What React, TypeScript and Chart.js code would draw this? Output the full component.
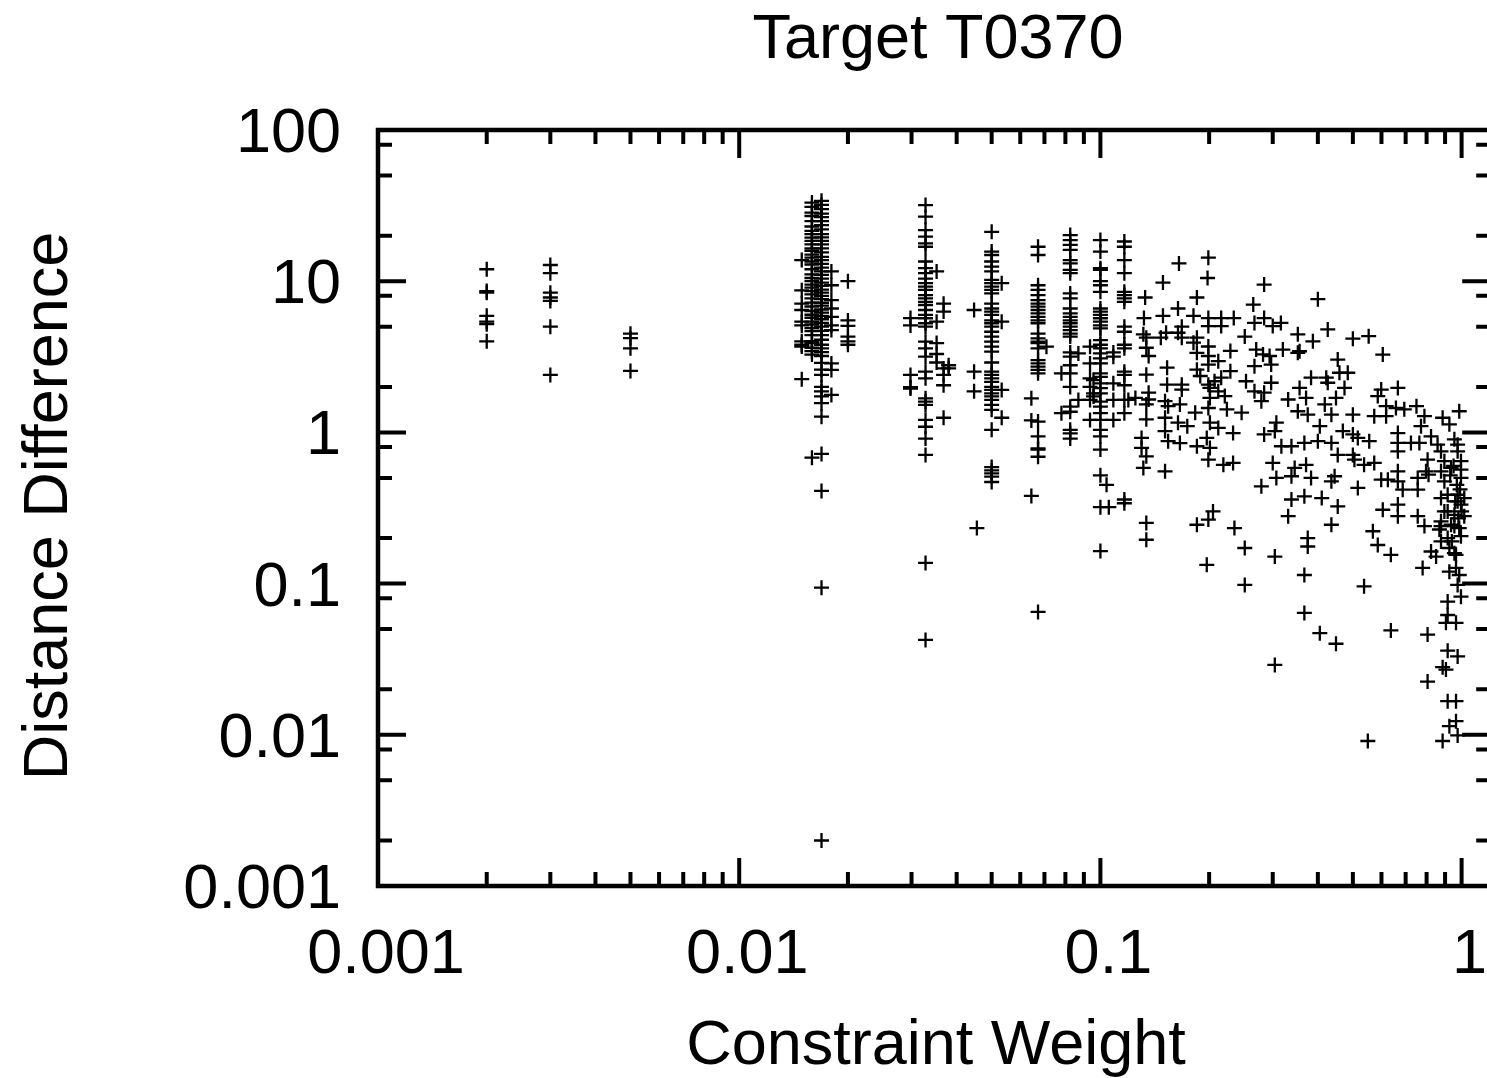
import React, { useEffect, useRef } from 'react';
import { Chart, registerables } from 'chart.js';

Chart.register(...registerables);

// ---------- texts & ticks ----------
const TITLE = 'Target T0370';
const X_TITLE = 'Constraint Weight';
const Y_TITLE = 'Distance Difference';
const xTickValues = [0.001, 0.01, 0.1, 1];
const xTickLabels = ['0.001', '0.01', '0.1', '1'];
const yTickValues = [0.001, 0.01, 0.1, 1, 10, 100];
const yTickLabels = ['0.001', '0.01', '0.1', '1', '10', '100'];
const xMinorFactors = [2, 3, 4, 5, 6, 7, 8, 9];
const yMinorFactors = [2, 5, 8];
const X_MIN = 0.001;
const X_MAX = 1.2;
const Y_MIN = 0.001;
const Y_MAX = 100;

// ---------- data: columns of points sharing one constraint weight ----------
const col0020 = [12, 8.4, 8.6, 5.9, 5.4, 5.2, 4.0];
const col0030 = [12.8, 11.3, 8.4, 7.8, 7.4, 5.0, 2.4];
const col0050 = [4.5, 4.2, 3.6, 2.55];
const col0149 = [13.8, 8.7, 7.1, 6.45, 5.4, 5.1, 4.0, 3.8, 3.7, 2.25];
const col0159 = [33.1, 31, 28.4, 27, 25.0, 23, 21.5, 20.5, 19.4, 18.5, 17.5, 16.5, 15.9, 15, 14.3, 13.5, 12.9, 12, 11.1, 10.5, 10.0, 9.5, 9.06, 8.6, 8.18, 7.7, 7.21, 6.8, 6.35, 6.0, 5.73, 5.4, 5.17, 4.9, 4.68, 4.4, 4.02, 3.9, 3.63, 3.45, 3.27, 0.68];
const col0169 = [34, 32, 30, 28, 26.5, 25, 23.5, 22, 20.5, 19.5, 18.5, 17.5, 16.5, 15.5, 14.5, 13.8, 13, 12.3, 11.6, 11, 10.4, 9.8, 9.3, 8.8, 8.4, 8, 7.6, 7.2, 6.9, 6.5, 6.2, 5.9, 5.6, 5.3, 5.0, 4.7, 4.4, 4.1, 3.8, 3.6, 3.4, 3.2, 2.88, 2.6, 2.4, 2.0, 1.87, 1.73, 1.56, 1.27, 0.72, 0.41, 0.094, 0.002];
const col0180 = [11.6, 9.4, 7.5, 6.6, 5.8, 5.1, 4.75, 2.86, 2.59, 1.77];
const col0200 = [10.0, 5.5, 5.06, 4.3, 4.0, 3.8];
const col0298 = [5.7, 5.1, 2.4, 1.99, 1.95];
const col0328 = [31.9, 26.7, 21.8, 19.7, 17.8, 16.9, 13.5, 12.2, 11.3, 10.4, 9.7, 9.2, 8.75, 8.1, 7.7, 7.3, 6.96, 6.45, 5.98, 5.69, 5.27, 5.0, 3.98, 3.6, 3.17, 2.52, 2.28, 1.68, 1.6, 1.52, 1.21, 1.09, 0.91, 0.71, 0.137, 0.0424];
const col0352 = [11.6, 5.4, 3.9, 3.3, 2.9];
const col0368 = [7.1, 6.3, 2.65, 2.4, 2.05, 1.25];
const col0380 = [2.78, 2.65];
const col0447 = [6.45, 2.52, 1.87];
const col0455 = [0.233];
const col0500 = [21.2, 15.7, 14.9, 13.5, 12.5, 11.6, 10.2, 9.7, 9.2, 8.75, 8.3, 7.1, 6.6, 6.3, 5.98, 5.5, 5.27, 5.0, 4.63, 4.3, 3.98, 3.69, 3.42, 2.9, 2.52, 2.4, 2.28, 2.16, 2.0, 1.91, 1.81, 1.73, 1.64, 1.52, 1.41, 1.04, 0.59, 0.56, 0.536, 0.51, 0.47];
const col0533 = [9.7, 5.4, 1.91, 1.25];
const col0644 = [1.68, 1.2, 0.38];
const col0672 = [16.9, 14.9, 9.4, 8.75, 8.1, 7.5, 7.1, 6.78, 6.45, 6.13, 5.8, 5.5, 5.27, 4.5, 4.19, 3.98, 3.89, 3.6, 3.01, 2.86, 2.72, 2.59, 2.46, 1.18, 0.94, 0.785, 0.77, 0.69, 0.065];
const col0709 = [3.69];
const col0780 = [2.46, 1.34];
const col0825 = [20.2, 18.7, 17.4, 16.1, 13.8, 13.1, 11.9, 11.3, 8.3, 7.7, 6.6, 6.13, 5.8, 5.5, 5.27, 5.0, 4.75, 4.5, 4.3, 3.38, 3.17, 2.78, 2.46, 2.0, 1.48, 1.37, 1.04, 0.986, 0.91];
const col0869 = [3.33, 1.64];
const col0936 = [3.69, 2.86, 2.28, 2.0, 1.64, 1.21];
const col0957 = [2.22, 1.81, 1.73];
const col1000 = [18.7, 15.7, 12.2, 11.9, 10.0, 9.4, 8.5, 6.6, 6.3, 5.98, 5.69, 5.4, 5.1, 4.88, 4.08, 3.8, 3.6, 3.33, 3.09, 2.86, 2.46, 2.33, 2.11, 1.96, 1.81, 1.6, 1.48, 1.34, 1.21, 1.04, 0.94, 0.77, 0.52, 0.32, 0.164];
const col1040 = [0.45];
const col1055 = [0.32];
const col1086 = [3.38, 3.17, 2.11, 1.64, 1.21];
const col1165 = [18.3, 16.9, 13.8, 11.3, 8.5, 8.1, 7.7, 7.3, 5.0, 4.63, 3.8, 3.6, 2.52, 2.4, 2.05, 1.64, 1.34, 0.34, 0.36];
const col1195 = [1.64];

const columnWeights = [0.002, 0.003, 0.005, 0.0149, 0.0159, 0.0169, 0.018, 0.02, 0.0298, 0.0328, 0.0352, 0.0368, 0.038, 0.0447, 0.0455, 0.05, 0.0533, 0.0644, 0.0672, 0.0709, 0.078, 0.0825, 0.0869, 0.0936, 0.0957, 0.1, 0.104, 0.1055, 0.1086, 0.1165, 0.1195];
const columnValues = [col0020, col0030, col0050, col0149, col0159, col0169, col0180, col0200, col0298, col0328, col0352, col0368, col0380, col0447, col0455, col0500, col0533, col0644, col0672, col0709, col0780, col0825, col0869, col0936, col0957, col1000, col1040, col1055, col1086, col1165, col1195];

// ---------- data: scattered points [weight, difference] ----------
const scatterMid: [number, number][] = [
  [0.199, 14.3], [0.165, 13.1], [0.198, 10.5], [0.149, 9.8], [0.284, 9.5], [0.185, 7.8], [0.133, 7.8],
  [0.265, 7.0], [0.164, 6.6], [0.132, 5.7], [0.149, 5.9], [0.181, 5.9], [0.199, 5.7], [0.216, 5.7],
  [0.234, 5.7], [0.267, 5.3], [0.284, 5.7], [0.316, 5.3], [0.30, 5.05], [0.199, 5.05], [0.216, 5.05],
  [0.168, 5.0], [0.1315, 4.45], [0.134, 4.23], [0.152, 4.56], [0.164, 4.56], [0.168, 4.23], [0.147, 4.23],
  [0.185, 4.23], [0.181, 3.92], [0.251, 4.3], [0.352, 4.45], [0.199, 3.7], [0.185, 3.36], [0.229, 3.46],
  [0.270, 3.53], [0.282, 3.28], [0.294, 3.2], [0.320, 3.53], [0.352, 3.36], [0.134, 3.63], [0.136, 3.2],
  [0.199, 3.2], [0.212, 2.96], [0.199, 2.81], [0.267, 2.74], [0.297, 2.81], [0.153, 2.68], [0.185, 2.6],
  [0.229, 2.54], [0.134, 2.41], [0.189, 2.36], [0.216, 2.3], [0.207, 2.18], [0.199, 2.07], [0.153, 2.07],
  [0.168, 2.07], [0.253, 2.18], [0.297, 2.13], [0.168, 1.92], [0.201, 1.97], [0.212, 1.87], [0.267, 1.87],
  [0.284, 1.83], [0.356, 1.97], [0.136, 1.83], [0.125, 1.69], [0.136, 1.65], [0.151, 1.61], [0.201, 1.69],
  [0.221, 1.74], [0.279, 1.61], [0.331, 1.65], [0.134, 1.53], [0.154, 1.49], [0.166, 1.53], [0.199, 1.45],
  [0.224, 1.42], [0.246, 1.35], [0.183, 1.35], [0.352, 1.38], [0.134, 1.22], [0.151, 1.25], [0.164, 1.16],
  [0.174, 1.1], [0.201, 1.16], [0.212, 1.07], [0.233, 0.99], [0.307, 1.16], [0.284, 0.97], [0.304, 1.02],
  [0.151, 1.02], [0.130, 0.92], [0.154, 0.875], [0.166, 0.85], [0.185, 0.81], [0.197, 0.92], [0.201, 0.79],
  [0.130, 0.79], [0.317, 0.81], [0.338, 0.81], [0.134, 0.695], [0.199, 0.66], [0.219, 0.61], [0.233, 0.628],
  [0.30, 0.628], [0.1315, 0.582], [0.151, 0.553], [0.345, 0.582],
];

const scatterHigh: [number, number][] = [
  [0.40, 7.6], [0.426, 4.8], [0.3875, 4.0], [0.50, 4.17], [0.553, 4.33], [0.356, 3.44], [0.605, 3.27],
  [0.454, 3.03], [0.484, 2.48], [0.459, 2.48], [0.383, 2.3], [0.422, 2.3], [0.426, 2.13], [0.474, 1.97],
  [0.599, 1.92], [0.586, 1.74], [0.666, 1.97], [0.371, 1.69], [0.449, 1.69], [0.418, 1.53], [0.618, 1.49],
  [0.658, 1.45], [0.694, 1.42], [0.75, 1.49], [0.985, 1.38], [0.375, 1.31], [0.436, 1.31], [0.50, 1.31],
  [0.573, 1.28], [0.618, 1.28], [0.789, 1.28], [0.886, 1.25], [0.405, 1.1], [0.772, 1.1], [0.925, 1.13],
  [0.469, 1.02], [0.50, 0.97], [0.516, 0.92], [0.666, 0.99], [0.823, 0.94], [0.955, 0.9], [0.367, 0.852],
  [0.40, 0.875], [0.436, 0.852], [0.555, 0.875], [0.666, 0.852], [0.724, 0.852], [0.764, 0.852],
  [0.858, 0.83], [0.975, 0.83], [0.454, 0.71], [0.50, 0.71], [0.666, 0.75], [0.877, 0.75], [0.975, 0.75],
  [0.505, 0.66], [0.537, 0.61], [0.573, 0.628], [0.805, 0.66], [0.896, 0.645], [0.996, 0.645], [0.371, 0.61],
  [0.383, 0.5], [0.445, 0.513], [0.436, 0.475], [0.599, 0.487], [0.625, 0.487], [0.666, 0.553],
  [0.666, 0.475], [0.756, 0.5], [0.797, 0.553], [0.81, 0.525], [0.877, 0.553], [0.935, 0.582],
  [0.996, 0.567], [0.996, 0.5], [0.896, 0.475], [0.516, 0.429], [0.687, 0.418], [0.756, 0.418],
  [0.367, 0.378], [0.41, 0.368], [0.454, 0.324], [0.666, 0.333], [0.877, 0.368], [0.975, 0.387],
  [0.975, 0.35], [1.017, 0.368], [0.605, 0.308], [0.666, 0.279], [0.756, 0.279], [0.789, 0.24],
  [0.896, 0.30], [0.955, 0.285], [1.017, 0.279], [0.436, 0.245], [0.568, 0.222], [0.877, 0.24],
  [0.955, 0.24], [0.996, 0.206], [0.375, 0.20], [0.375, 0.176], [0.586, 0.18], [0.823, 0.163],
  [0.877, 0.19], [0.955, 0.159], [0.637, 0.155], [0.95, 0.6], [0.97, 0.45], [0.99, 0.42], [0.93, 0.52],
  [0.96, 0.35], [1.0, 0.3], [0.98, 0.27], [0.94, 0.19],
];

const scatterLow: [number, number][] = [
  [0.279, 0.44], [0.307, 0.5], [0.338, 0.513], [0.338, 0.36], [0.134, 0.252], [0.134, 0.195],
  [0.185, 0.245], [0.199, 0.265], [0.205, 0.30], [0.235, 0.233], [0.331, 0.279], [0.251, 0.172],
  [0.304, 0.151], [0.197, 0.133], [0.367, 0.114], [0.251, 0.098], [0.537, 0.096], [0.78, 0.127],
  [0.367, 0.064], [0.405, 0.047], [0.449, 0.04], [0.304, 0.029], [0.637, 0.049], [0.805, 0.046],
  [0.805, 0.0225], [0.55, 0.0091], [0.886, 0.0091],
  [0.915, 0.387], [0.996, 0.333], [0.915, 0.30], [0.877, 0.258], [0.935, 0.245], [0.985, 0.233],
  [0.868, 0.228], [0.915, 0.20], [0.925, 0.172], [0.85, 0.151], [0.965, 0.155], [0.965, 0.127],
  [0.925, 0.12], [0.985, 0.114], [0.975, 0.098], [0.996, 0.082], [0.915, 0.076], [0.915, 0.062],
  [0.905, 0.055], [0.965, 0.055], [0.915, 0.036], [0.975, 0.033], [0.886, 0.028], [0.905, 0.027],
  [0.915, 0.0167], [0.965, 0.0167], [0.965, 0.0123], [0.925, 0.0114], [0.975, 0.0099],
];

// ---------- layout constants ----------
const CANVAS_W = 1500;
const CANVAS_H = 1078;
const FONT_TICK = '63px "Liberation Sans", Arial, sans-serif';
const FONT_TITLE = '63px "Liberation Sans", Arial, sans-serif';

function buildPoints() {
  const pts: { x: number; y: number }[] = [];
  columnWeights.forEach((w, i) => {
    columnValues[i].forEach((v) => pts.push({ x: w, y: v }));
  });
  [scatterMid, scatterHigh, scatterLow].forEach((arr) =>
    arr.forEach(([x, y]) => pts.push({ x, y }))
  );
  return pts;
}

const framePlugin = {
  id: 'gnuFrame',
  afterDatasetsDraw(chart: any) {
    const { ctx, chartArea: a, scales } = chart;
    const xs = scales.x;
    const ys = scales.y;
    ctx.save();
    ctx.strokeStyle = '#000';
    ctx.fillStyle = '#000';
    ctx.lineCap = 'butt';

    // frame
    ctx.lineWidth = 4.5;
    ctx.beginPath();
    ctx.rect(a.left, a.top, a.right - a.left, a.bottom - a.top);
    ctx.stroke();

    // ticks
    ctx.lineWidth = 4;
    ctx.beginPath();
    const MAJ = 28;
    const MIN = 14;
    const xTick = (v: number, len: number) => {
      if (v < X_MIN || v > X_MAX) return;
      const px = xs.getPixelForValue(v);
      ctx.moveTo(px, a.bottom);
      ctx.lineTo(px, a.bottom - len);
      ctx.moveTo(px, a.top);
      ctx.lineTo(px, a.top + len);
    };
    const yTick = (v: number, len: number) => {
      if (v < Y_MIN || v > Y_MAX) return;
      const py = ys.getPixelForValue(v);
      ctx.moveTo(a.left, py);
      ctx.lineTo(a.left + len, py);
      ctx.moveTo(a.right, py);
      ctx.lineTo(a.right - len, py);
    };
    xTickValues.forEach((v) => {
      xTick(v, MAJ);
      xMinorFactors.forEach((f) => xTick(v * f, MIN));
    });
    yTickValues.forEach((v) => {
      yTick(v, MAJ);
      yMinorFactors.forEach((f) => yTick(v * f, MIN));
    });
    ctx.stroke();

    // tick labels
    ctx.font = FONT_TICK;
    ctx.textBaseline = 'alphabetic';
    ctx.textAlign = 'center';
    xTickValues.forEach((v, i) => {
      const px = xs.getPixelForValue(v);
      ctx.fillText(xTickLabels[i], px + 8, a.bottom + 87);
    });
    ctx.textAlign = 'right';
    yTickValues.forEach((v, i) => {
      const py = ys.getPixelForValue(v);
      ctx.fillText(yTickLabels[i], a.left - 37, py + 22);
    });

    // titles
    ctx.font = FONT_TITLE;
    ctx.textAlign = 'center';
    ctx.fillText(TITLE, 938, 58);
    ctx.fillText(X_TITLE, 936, 1064);
    ctx.save();
    ctx.translate(67, 506);
    ctx.rotate(-Math.PI / 2);
    ctx.fillText(Y_TITLE, 0, 0);
    ctx.restore();

    ctx.restore();
  },
};

export default function App() {
  const ref = useRef<HTMLCanvasElement | null>(null);

  useEffect(() => {
    if (!ref.current) return;
    const chart = new Chart(ref.current, {
      type: 'scatter',
      data: {
        datasets: [
          {
            data: buildPoints(),
            pointStyle: 'cross',
            pointRadius: 7.5,
            pointHoverRadius: 7.5,
            borderColor: '#000',
            backgroundColor: '#000',
            borderWidth: 2.3,
            pointBorderWidth: 2.3,
            clip: false,
          } as any,
        ],
      },
      options: {
        responsive: false,
        animation: false,
        devicePixelRatio: 1,
        events: [],
        layout: { padding: { left: 378, top: 130, right: CANVAS_W - 1493, bottom: CANVAS_H - 886 } },
        plugins: { legend: { display: false }, tooltip: { enabled: false }, title: { display: false } },
        scales: {
          x: { type: 'logarithmic', min: X_MIN, max: X_MAX, display: false },
          y: { type: 'logarithmic', min: Y_MIN, max: Y_MAX, display: false },
        },
      },
      plugins: [framePlugin],
    });
    return () => chart.destroy();
  }, []);

  return (
    <div
      style={{
        position: 'fixed',
        left: 0,
        top: 0,
        width: 1487,
        height: 1078,
        overflow: 'hidden',
        background: '#fff',
      }}
    >
      <canvas
        ref={ref}
        width={CANVAS_W}
        height={CANVAS_H}
        style={{ display: 'block', width: CANVAS_W, height: CANVAS_H }}
      />
    </div>
  );
}
